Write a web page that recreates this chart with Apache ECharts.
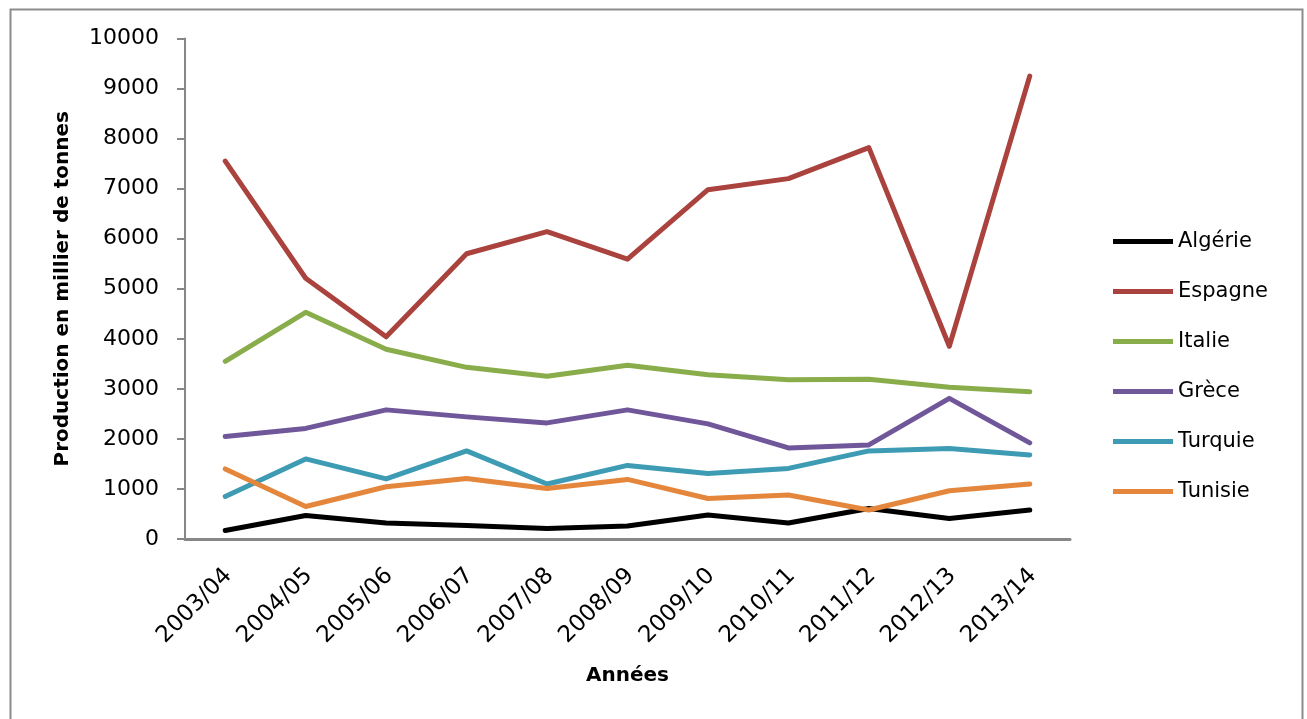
<!DOCTYPE html>
<html>
<head>
<meta charset="utf-8">
<script src="https://cdn.jsdelivr.net/npm/echarts@6/dist/echarts.min.js"></script>
<style>
html,body{margin:0;padding:0;background:#fff;}
#chart{width:1307px;height:719px;}
</style>
</head>
<body>
<div id="chart"></div>
<script>
const categories = ['2003/04','2004/05','2005/06','2006/07','2007/08','2008/09','2009/10','2010/11','2011/12','2012/13','2013/14'];
const algerie = [170, 470, 320, 270, 210, 260, 480, 320, 610, 410, 580];
const espagne = [7550, 5210, 4040, 5700, 6140, 5590, 6980, 7200, 7820, 3850, 9250];
const italie  = [3550, 4530, 3790, 3430, 3250, 3470, 3280, 3180, 3190, 3030, 2940];
const grece   = [2050, 2210, 2580, 2440, 2320, 2580, 2300, 1820, 1880, 2810, 1920];
const turquie = [850, 1600, 1200, 1760, 1100, 1470, 1310, 1410, 1760, 1810, 1680];
const tunisie = [1400, 650, 1045, 1210, 1010, 1190, 810, 880, 580, 965, 1100];
const seriesNames = ['Algérie','Espagne','Italie','Grèce','Turquie','Tunisie'];
const seriesData = [algerie, espagne, italie, grece, turquie, tunisie];
const colors = ['#000000','#AA423E','#8AAD4C','#70579A','#3E9BB4','#E4863C'];

const chart = echarts.init(document.getElementById('chart'));
const FONT = 'DejaVu Sans';
chart.setOption({
  animation: false,
  backgroundColor: '#ffffff',
  color: colors,
  graphic: [{
    type: 'rect', left: 8, top: 7, z: -1,
    shape: {width: 1292, height: 730},
    style: {fill: 'none', stroke: '#8c8c8c', lineWidth: 2}
  }],
  grid: {left: 185, top: 38.5, right: 237, bottom: 180, containLabel: false},
  legend: {
    orient: 'vertical', left: 1108, top: 226,
    itemWidth: 60, itemHeight: 5, itemGap: 29,
    icon: 'rect',
    textStyle: {fontFamily: FONT, fontSize: 21, color: '#000'},
    data: seriesNames
  },
  xAxis: {
    type: 'category', data: categories, boundaryGap: true,
    name: 'Années', nameLocation: 'middle', nameGap: 127,
    nameTextStyle: {fontFamily: FONT, fontSize: 20, fontWeight: 'bold', color: '#000'},
    axisLine: {lineStyle: {color: '#878787', width: 3}},
    axisTick: {show: false},
    axisLabel: {rotate: 45, margin: 20, verticalAlign: 'top', padding: [0, 7, 0, 0], fontFamily: FONT, fontSize: 23, color: '#000', interval: 0}
  },
  yAxis: {
    type: 'value', min: 0, max: 10000, interval: 1000,
    name: 'Production en millier de tonnes', nameLocation: 'middle', nameGap: 112,
    nameTextStyle: {fontFamily: FONT, fontSize: 20, fontWeight: 'bold', color: '#000'},
    axisLine: {show: true, lineStyle: {color: '#878787', width: 2}},
    axisTick: {show: true, length: 8, lineStyle: {color: '#878787', width: 2}},
    axisLabel: {margin: 26, fontFamily: FONT, fontSize: 22, color: '#000', formatter: v => String(v)},
    splitLine: {show: false}
  },
  series: seriesNames.map((n, i) => ({
    name: n, type: 'line', data: seriesData[i],
    showSymbol: false, symbol: 'none',
    lineStyle: {width: 5, color: colors[i], cap: 'round', join: 'round'},
    itemStyle: {color: colors[i]}
  }))
});
</script>
</body>
</html>
